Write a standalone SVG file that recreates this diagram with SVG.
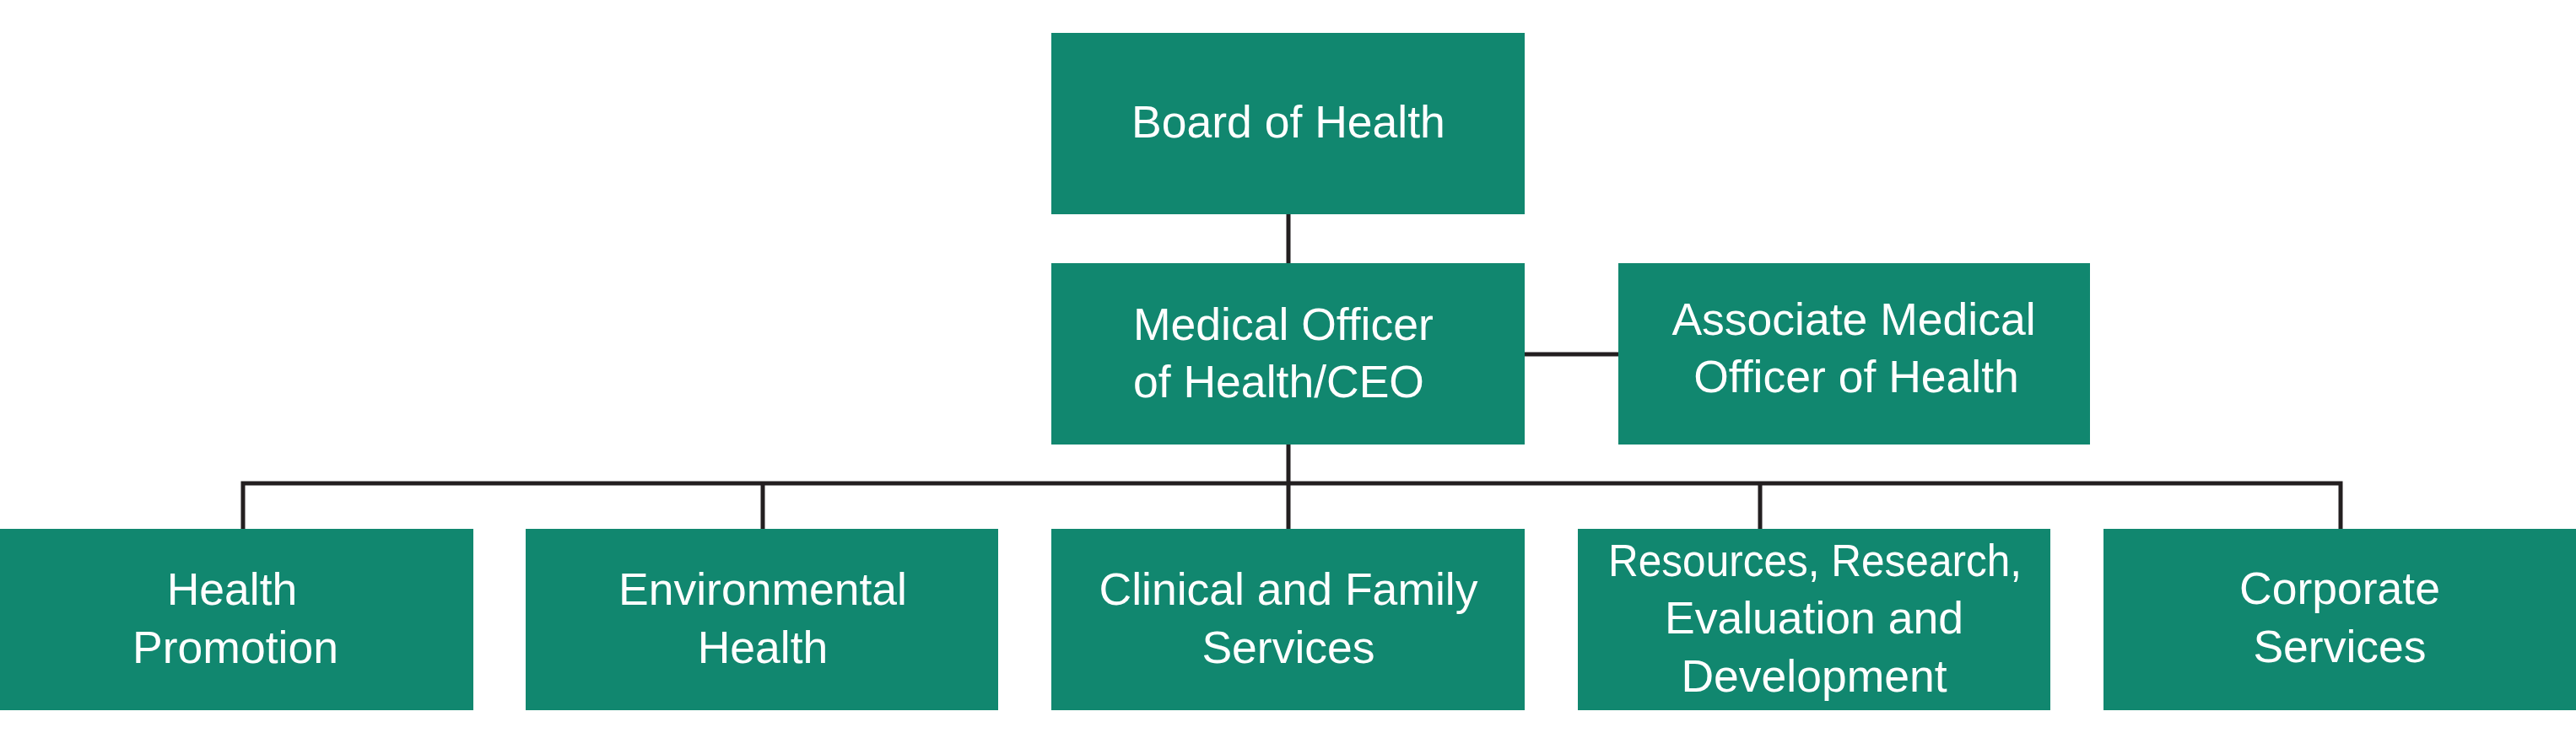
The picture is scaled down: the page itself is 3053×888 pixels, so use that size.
<svg xmlns="http://www.w3.org/2000/svg" width="3053" height="888" viewBox="0 0 3053 888">
<style>
.box{fill:#11876f;}
.lbl{font-family:"Liberation Sans",Arial,sans-serif;font-size:53.5px;fill:#ffffff;text-anchor:middle;}
.lbl.left{text-anchor:start;}
.conn{fill:none;stroke:#231f20;stroke-width:5;stroke-linejoin:miter;stroke-linecap:butt;}
</style>
<rect x="0" y="0" width="3053" height="888" fill="#ffffff"/>
<g id="connectors">
<line class="conn" x1="1527" y1="253" x2="1527" y2="313"/>
<line class="conn" x1="1806" y1="420" x2="1919" y2="420"/>
<line class="conn" x1="1527" y1="526" x2="1527" y2="628"/>
<path class="conn" d="M288 628 V573 H2774 V628"/>
<line class="conn" x1="904" y1="573" x2="904" y2="628"/>
<line class="conn" x1="2086" y1="573" x2="2086" y2="628"/>
</g>
<g id="board">
<rect class="box" x="1246" y="39" width="561" height="215"/>
<text class="lbl" x="1527" y="163">Board of Health</text>
</g>
<g id="moh">
<rect class="box" x="1246" y="312" width="561" height="215"/>
<text class="lbl left" x="1343" y="403">Medical Officer</text>
<text class="lbl left" x="1343" y="471">of Health/CEO</text>
</g>
<g id="assoc">
<rect class="box" x="1918" y="312" width="559" height="215"/>
<text class="lbl" x="2197" y="397">Associate Medical</text>
<text class="lbl" x="2200" y="465">Officer of Health</text>
</g>
<g id="health-promotion">
<rect class="box" x="0" y="627" width="561" height="215"/>
<text class="lbl" x="275" y="717">Health</text>
<text class="lbl" x="279" y="786">Promotion</text>
</g>
<g id="environmental-health">
<rect class="box" x="623" y="627" width="560" height="215"/>
<text class="lbl" x="904" y="717">Environmental</text>
<text class="lbl" x="904" y="786">Health</text>
</g>
<g id="clinical">
<rect class="box" x="1246" y="627" width="561" height="215"/>
<text class="lbl" x="1527" y="717">Clinical and Family</text>
<text class="lbl" x="1527" y="786">Services</text>
</g>
<g id="resources">
<rect class="box" x="1870" y="627" width="560" height="215"/>
<text class="lbl" x="2151" y="683" textLength="490" lengthAdjust="spacingAndGlyphs">Resources, Research,</text>
<text class="lbl" x="2150" y="751">Evaluation and</text>
<text class="lbl" x="2150" y="820">Development</text>
</g>
<g id="corporate">
<rect class="box" x="2493" y="627" width="560" height="215"/>
<text class="lbl" x="2773" y="716">Corporate</text>
<text class="lbl" x="2773" y="785">Services</text>
</g>
</svg>
